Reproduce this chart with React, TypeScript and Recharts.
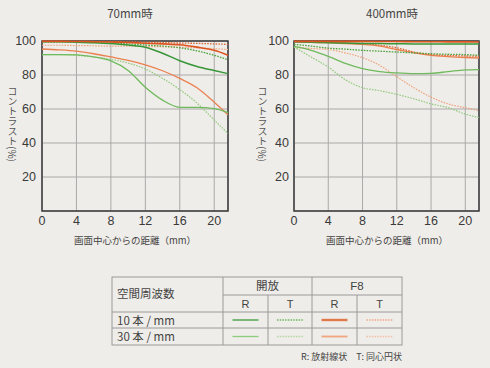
import { LineChart, Line, XAxis, YAxis, CartesianGrid, ReferenceArea } from 'recharts'

// image height (mm) at which each curve value is read
const positions = [0, 2, 4, 6, 8, 10, 12, 14, 16, 18, 20, 21.6]
const xTicks = [0, 4, 8, 12, 16, 20]
const yTicks = [20, 40, 60, 80, 100]

// 70mm
const wide10R = [99.5, 99.5, 99.3, 99, 98.5, 97.6, 96.3, 92.8, 88.4, 85, 82.6, 80.8]
const wide10T = [99.5, 99.5, 99.3, 99.1, 98.8, 98.3, 97.6, 97, 96, 94.2, 91.6, 89]
const wide30R = [92, 92, 91.8, 90.6, 88.3, 82.7, 72.8, 65.2, 61, 61, 60.2, 57.8]
const wide30T = [92, 92, 91.6, 90.6, 89.2, 87, 83.5, 78, 71.4, 63.5, 53.5, 45.6]
const wideF10R = [99.8, 99.8, 99.7, 99.6, 99.4, 99.1, 98.7, 98.3, 97.8, 96.4, 94.5, 91.6]
const wideF10T = [99.8, 99.8, 99.8, 99.7, 99.6, 99.5, 99.3, 99.1, 98.8, 98.6, 98.3, 98]
const wideF30R = [95.3, 94.8, 94, 92.5, 90.6, 88.6, 86, 82.5, 78, 72.5, 64, 56.6]
const wideF30T = [97.5, 97.5, 97.3, 97.2, 97, 97, 96.8, 96.6, 96.3, 96, 95.5, 95]

// 400mm
const tele10R = [99.5, 99.3, 99, 98.8, 98.6, 98.5, 98.4, 98.3, 98.3, 98.2, 98.2, 98.2]
const tele10T = [98, 97, 95.8, 95.2, 94.5, 94, 93.5, 93, 92.5, 92.2, 92, 91.6]
const tele30R = [96.8, 94.5, 91, 86.8, 83.7, 82, 81.2, 80.8, 81, 82, 83, 83.2]
const tele30T = [96.5, 90.6, 84.7, 77.2, 72.5, 70.8, 68.6, 66, 63, 60.8, 57, 55]
const teleF10R = [99.8, 99.8, 99.8, 99.8, 99.8, 99.7, 99.7, 99.6, 99.6, 99.5, 99.5, 99.4]
const teleF10T = [99.7, 99.5, 99.3, 99, 98.5, 97.5, 96, 93.5, 92, 91.5, 91.2, 91]
const teleF30R = [99.5, 99.2, 99, 98.5, 98, 97, 95, 93, 91.5, 90.8, 90.3, 90]
const teleF30T = [96.2, 95.6, 95, 93, 90.2, 85.7, 79, 72.5, 67, 63, 60.8, 59]

const BG = '#efede9'
const NUM_FONT = '"Liberation Sans", Arial, sans-serif'
const JP_FONT = '"Noto Sans CJK JP", "Liberation Sans", sans-serif'

const SERIES = [
  { key: 'f30T', color: '#efa47f', dash: '1.6 1.2', width: 1.2 },
  { key: 'f30R', color: '#ea8050', dash: undefined, width: 1.3 },
  { key: 'w30T', color: '#93ca7f', dash: '1.6 1.2', width: 1.2 },
  { key: 'w30R', color: '#6fba5c', dash: undefined, width: 1.3 },
  { key: 'f10T', color: '#dc6a38', dash: '1.6 1.2', width: 1.3 },
  { key: 'w10T', color: '#4ea43e', dash: '1.6 1.2', width: 1.3 },
  { key: 'w10R', color: '#379637', dash: undefined, width: 1.5 },
  { key: 'f10R', color: '#dc5520', dash: undefined, width: 1.6 },
]

function buildRows(w10R: number[], w10T: number[], w30R: number[], w30T: number[],
  f10R: number[], f10T: number[], f30R: number[], f30T: number[]) {
  return positions.map((x, i) => ({
    x, w10R: w10R[i], w10T: w10T[i], w30R: w30R[i], w30T: w30T[i],
    f10R: f10R[i], f10T: f10T[i], f30R: f30R[i], f30T: f30T[i],
  }))
}

const wideData = buildRows(wide10R, wide10T, wide30R, wide30T, wideF10R, wideF10T, wideF30R, wideF30T)
const teleData = buildRows(tele10R, tele10T, tele30R, tele30T, teleF10R, teleF10T, teleF30R, teleF30T)

function MtfChart({ data, yWidth, right, tickSize }: { data: any[]; yWidth: number; right: number; tickSize: number }) {
  const tick = { fill: '#3a3a3a', fontSize: 12.5, fontFamily: NUM_FONT }
  return (
    <LineChart width={245} height={250} data={data} margin={{ top: 41, right, bottom: 9, left: 0 }}>
      <CartesianGrid stroke="#a9a9a9" strokeWidth={1} />
      <XAxis dataKey="x" type="number" domain={[0, 21.6]} ticks={xTicks} tick={tick}
        axisLine={false} tickLine={false} tickSize={4} tickMargin={1} height={30} interval={0} />
      <YAxis type="number" domain={[0, 100]} ticks={yTicks} tick={tick} width={yWidth}
        axisLine={false} tickLine={false} tickSize={tickSize} tickMargin={2} interval={0} />
      {SERIES.map((s) => (
        <Line key={s.key} type="monotone" dataKey={s.key} stroke={s.color} strokeWidth={s.width}
          strokeDasharray={s.dash} dot={false} isAnimationActive={false} />
      ))}
      <ReferenceArea x1={0} x2={21.6} y1={0} y2={100} fill="none" stroke="#3a3a3a" strokeWidth={1.5} ifOverflow="visible" />
    </LineChart>
  )
}

const abs = (left: number, top: number): React.CSSProperties => ({ position: 'absolute', left, top })

function YTitle({ left }: { left: number }) {
  return (
    <div style={{ ...abs(left, 86), writingMode: 'vertical-rl', fontSize: 10, color: '#555', fontFamily: JP_FONT, lineHeight: '12px' }}>
      コントラスト(%)
    </div>
  )
}

// legend table
const tx = [112, 223, 268, 312, 357, 402]
const ty = [277, 295, 312, 328, 345]

function Legend() {
  const line = '#9a9a9a'
  const sw = [
    [{ c: '#3b9a3b', d: undefined, w: 1.3 }, { c: '#6cb65c', d: '1.5 1.2', w: 1.3 }, { c: '#e07a4c', d: undefined, w: 2.4 }, { c: '#f0a58a', d: '1.5 1.2', w: 1.6 }],
    [{ c: '#8ccc7c', d: undefined, w: 1.3 }, { c: '#b2d8a6', d: '1.5 1.2', w: 1.3 }, { c: '#f0a57e', d: undefined, w: 1.8 }, { c: '#f4bea6', d: '1.5 1.2', w: 1.4 }],
  ]
  const text = { fontFamily: JP_FONT, fill: '#444' }
  return (
    <svg width={490} height={368} style={abs(0, 0)}>
      <rect x={tx[0]} y={ty[0]} width={tx[5] - tx[0]} height={ty[4] - ty[0]} fill="none" stroke={line} />
      <line x1={tx[1]} x2={tx[1]} y1={ty[0]} y2={ty[4]} stroke={line} />
      <line x1={tx[3]} x2={tx[3]} y1={ty[0]} y2={ty[4]} stroke={line} />
      <line x1={tx[2]} x2={tx[2]} y1={ty[1]} y2={ty[4]} stroke={line} />
      <line x1={tx[4]} x2={tx[4]} y1={ty[1]} y2={ty[4]} stroke={line} />
      <line x1={tx[1]} x2={tx[5]} y1={ty[1]} y2={ty[1]} stroke={line} />
      <line x1={tx[0]} x2={tx[5]} y1={ty[2]} y2={ty[2]} stroke={line} />
      <line x1={tx[0]} x2={tx[5]} y1={ty[3]} y2={ty[3]} stroke={line} />
      <text x={117} y={298} fontSize={11.5} {...text}>空間周波数</text>
      <text x={267.5} y={290} fontSize={11.5} textAnchor="middle" {...text}>開放</text>
      <text x={357} y={290} fontSize={11.5} textAnchor="middle" fontFamily={NUM_FONT} fill="#444">F8</text>
      {['R', 'T', 'R', 'T'].map((t, i) => (
        <text key={i} x={(tx[i + 1] + tx[i + 2]) / 2} y={307.5} fontSize={11} textAnchor="middle" fontFamily={NUM_FONT} fill="#444">{t}</text>
      ))}
      <text x={117} y={324.5} fontSize={11.5} {...text}>10 本 / mm</text>
      <text x={117} y={341} fontSize={11.5} {...text}>30 本 / mm</text>
      {sw.map((row, r) => row.map((s, i) => (
        <line key={`${r}-${i}`} x1={(tx[i + 1] + tx[i + 2]) / 2 - 13} x2={(tx[i + 1] + tx[i + 2]) / 2 + 13}
          y1={320 + r * 16.5} y2={320 + r * 16.5} stroke={s.c} strokeWidth={s.w} strokeDasharray={s.d} />
      )))}
      <text x={402} y={360} fontSize={9} textAnchor="end" {...text}>R: 放射線状　T: 同心円状</text>
    </svg>
  )
}

export default function App() {
  const jp = { fontFamily: JP_FONT, color: '#444', whiteSpace: 'nowrap' as const }
  return (
    <div style={{ position: 'absolute', left: 0, top: 0, width: 490, height: 368, background: BG, overflow: 'hidden' }}>
      <div style={abs(0, 0)}>
        <MtfChart data={wideData} yWidth={42} right={17} tickSize={4} />
      </div>
      <div style={abs(245, 0)}>
        <MtfChart data={teleData} yWidth={49} right={11} tickSize={3} />
      </div>
      <div style={{ ...abs(100, 5), width: 60, textAlign: 'center', fontSize: 11.5, ...jp }}>70mm時</div>
      <div style={{ ...abs(357, 5), width: 70, textAlign: 'center', fontSize: 11.5, ...jp }}>400mm時</div>
      <div style={{ ...abs(70, 233), width: 130, textAlign: 'center', fontSize: 9.5, ...jp }}>画面中心からの距離（mm）</div>
      <div style={{ ...abs(322, 233), width: 130, textAlign: 'center', fontSize: 9.5, ...jp }}>画面中心からの距離（mm）</div>
      <YTitle left={6} />
      <YTitle left={256} />
      <Legend />
    </div>
  )
}
